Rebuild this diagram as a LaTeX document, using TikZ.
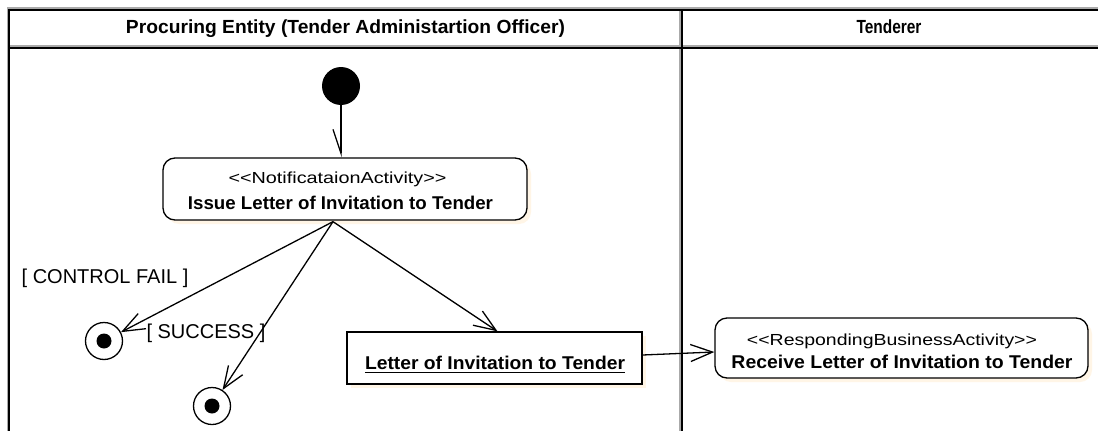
\documentclass[tikz,border=0pt]{standalone}
\usepackage{fontspec}
\setmainfont{Liberation Sans}
\usepackage{graphicx}
\usetikzlibrary{arrows.meta,calc,shadows}

% stretch a text horizontally to a given width, keeping its height
\newcommand\stretchto[2]{\resizebox{#1}{\height}{#2}}
% guillemet-free double angle brackets
\newcommand\lguil{<\kern0pt<}
\newcommand\rguil{>\kern0pt>}

\definecolor{shadecream}{RGB}{255,245,230}
\definecolor{framegray}{RGB}{170,170,170}

\tikzset{
  frameline/.style={black, line width=2.2pt},
  frameedge/.style={framegray, line width=1.5pt},
  boxshadow/.style={drop shadow={shadow xshift=4pt, shadow yshift=-4pt, fill=shadecream, opacity=1}},
  action/.style={draw, fill=white, line width=1.3pt, rounded corners=12pt, inner sep=0pt, boxshadow},
  objectbox/.style={draw, fill=white, line width=1.3pt, inner sep=0pt, boxshadow},
  txtlabel/.style={inner sep=0pt, anchor=base},
  startdot/.style={circle, fill=black, inner sep=0pt, minimum size=38pt},
  enddot/.style={circle, draw, line width=1.3pt, inner sep=0pt, minimum size=37pt,
    path picture={\fill[black] (path picture bounding box.center) circle (7.5pt);}},
  flow/.style={line width=1.3pt, -{Straight Barb[length=22pt, width=17pt, line width=1.3pt]}},
  halfflow/.style={line width=1.3pt, -{Straight Barb[length=24pt, width=16pt, line width=1.3pt, right]}},
  hdr/.style={txtlabel, font=\fontsize{19}{21}\selectfont\bfseries},
  stereo/.style={txtlabel, font=\fontsize{16}{18}\selectfont},
  actname/.style={txtlabel, font=\fontsize{18.5}{20}\selectfont\bfseries},
  guard/.style={txtlabel, font=\fontsize{20}{22}\selectfont},
}

\begin{document}
\begin{tikzpicture}[x=1pt, y=-1pt]
\useasboundingbox[fill=white] (0,0) rectangle (1098,431);

% swimlane frame: grey edge under a black rule
\draw[frameedge] (7,8) -- (1098,8);
\draw[frameedge] (7.8,8) -- (7.8,431);
\draw[frameedge] (9,46) -- (1098,46);
\draw[frameedge] (680.2,9) -- (680.2,431);
\draw[frameline] (8.2,9.9) -- (1098,9.9);
\draw[frameline] (9.3,8.8) -- (9.3,431);
\draw[frameline] (9.3,47.9) -- (1098,47.9);
\draw[frameline] (682,9.9) -- (682,431);

% lane headers
\node[hdr] (lane1) at (345.5,33.7) {\stretchto{439pt}{Procuring Entity (Tender Administartion Officer)}};
\node[hdr] (lane2) at (889,33.7) {\stretchto{65pt}{Tenderer}};

% nodes
\node[startdot] (init) at (341,86) {};
\node[action, minimum width=364pt, minimum height=62pt] (issue) at (345,189) {};
\node[stereo] (issuest) at (337.5,183.5) {\stretchto{218pt}{\lguil NotificataionActivity\rguil}};
\node[actname] (issuenm) at (340.5,209.5) {\stretchto{305pt}{Issue Letter of Invitation to Tender}};

\node[objectbox, minimum width=295pt, minimum height=52pt] (letter) at (494.5,358) {};
\node[actname] (lettertx) at (495,369) {\stretchto{260pt}{Letter of Invitation to Tender}};
\draw[line width=1.3pt] ($(lettertx.base west)+(0,3.5)$) -- ($(lettertx.base east)+(0,3.5)$);

\node[action, minimum width=373pt, minimum height=60pt] (receive) at (901.5,348) {};
\node[stereo] (receivest) at (892,345) {\stretchto{290pt}{\lguil RespondingBusinessActivity\rguil}};
\node[actname] (receivenm) at (902,368) {\stretchto{341pt}{Receive Letter of Invitation to Tender}};

\node[enddot] (fail) at (104,341) {};
\node[enddot] (done) at (212,406) {};

\node[guard] (failg) at (105,283) {[ CONTROL FAIL ]};
\node[guard] (doneg) at (206,338) {[ SUCCESS ]};

% control flows
\coordinate (fork) at ($(issue.south)+(-12,1)$);
\draw[halfflow] (init.south) -- (init.south |- issue.north);
\draw[flow] (fork) -- (fail);
\draw[flow] (fork) -- (done);
\draw[flow] (fork) -- ($(letter.north)+(3,0)$);
\draw[flow] ($(letter.east)+(0,-3)$) -- ($(receive.west)+(0,4)$);
\end{tikzpicture}
\end{document}
